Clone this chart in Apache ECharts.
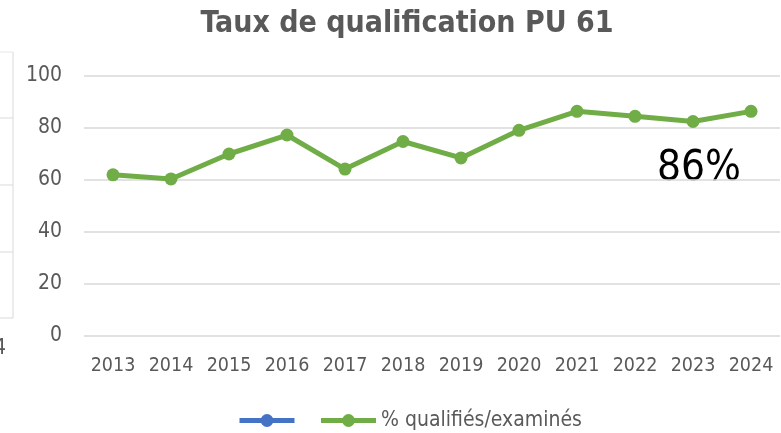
<!DOCTYPE html>
<html>
<head>
<meta charset="utf-8">
<script src="https://cdn.jsdelivr.net/npm/echarts@6/dist/echarts.min.js"></script>
<style>
  html, body { margin: 0; padding: 0; background: #fff; }
  #chart { width: 781px; height: 433px; }
</style>
</head>
<body>
<div id="chart"></div>
<script>
const years = ["2013", "2014", "2015", "2016", "2017", "2018", "2019", "2020", "2021", "2022", "2023", "2024"];
const tauxQualif = [62.0, 60.4, 70.0, 77.3, 64.2, 74.8, 68.5, 79.1, 86.4, 84.5, 82.5, 86.4];
const autreSerie = [];

const fontNarrow = "'Liberation Sans Narrow', 'DejaVu Sans Condensed', 'Liberation Sans', sans-serif";
const textGray = "#595959";

const chart = echarts.init(document.getElementById("chart"));

chart.setOption({
    backgroundColor: "#fff",
    animation: false,
    title: {
        text: "Taux de qualification PU 61",
        left: 402,
        textAlign: "center",
        top: 4,
        textStyle: { fontFamily: fontNarrow, fontSize: 30, fontWeight: "bold", color: textGray }
    },
    legend: {
        left: 232,
        top: 405,
        itemWidth: 55,
        itemHeight: 16,
        itemGap: 13,
        lineStyle: { width: 5 },
        textStyle: { fontFamily: fontNarrow, fontSize: 21, color: textGray },
        data: [" ", "% qualifiés/examinés"]
    },
    grid: { left: 84, right: 1, top: 76, bottom: 97 },
    xAxis: {
        type: "category",
        data: years,
        axisLine: { show: false },
        axisTick: { show: false },
        axisLabel: { interval: 0, margin: 20, fontFamily: fontNarrow, fontSize: 19.5, color: textGray }
    },
    yAxis: {
        type: "value",
        min: 0,
        max: 100,
        interval: 20,
        axisLabel: { margin: 22, fontFamily: fontNarrow, fontSize: 21, color: textGray },
        splitLine: { lineStyle: { color: "#d9d9d9", width: 1.5 } }
    },
    series: [
        {
            name: " ",
            type: "line",
            data: autreSerie,
            color: "#4472c4",
            symbol: "circle",
            symbolSize: 13,
            lineStyle: { width: 5 }
        },
        {
            name: "% qualifiés/examinés",
            type: "line",
            data: tauxQualif,
            color: "#70ad47",
            symbol: "circle",
            symbolSize: 13,
            lineStyle: { width: 5 }
        }
    ],
    graphic: [
        {
            type: "text",
            left: 657,
            top: 148,
            style: { text: "86%", font: "42px " + fontNarrow, fill: "#000" }
        },
        // morceau du graphique voisin coupé à gauche
        {
            type: "group",
            silent: true,
            children: [
                { type: "line", shape: { x1: 13, y1: 52, x2: 13, y2: 318 }, style: { stroke: "#d9d9d9", lineWidth: 1 } },
                { type: "line", shape: { x1: 0, y1: 52, x2: 13, y2: 52 }, style: { stroke: "#e6e6e6", lineWidth: 1 } },
                { type: "line", shape: { x1: 0, y1: 118, x2: 13, y2: 118 }, style: { stroke: "#d9d9d9", lineWidth: 1 } },
                { type: "line", shape: { x1: 0, y1: 185, x2: 13, y2: 185 }, style: { stroke: "#d9d9d9", lineWidth: 1 } },
                { type: "line", shape: { x1: 0, y1: 252, x2: 13, y2: 252 }, style: { stroke: "#d9d9d9", lineWidth: 1 } },
                { type: "line", shape: { x1: 0, y1: 318, x2: 13, y2: 318 }, style: { stroke: "#d9d9d9", lineWidth: 1 } },
                { type: "text", left: -6, top: 338, style: { text: "4", font: "21px " + fontNarrow, fill: textGray } }
            ]
        }
    ]
});
</script>
</body>
</html>
